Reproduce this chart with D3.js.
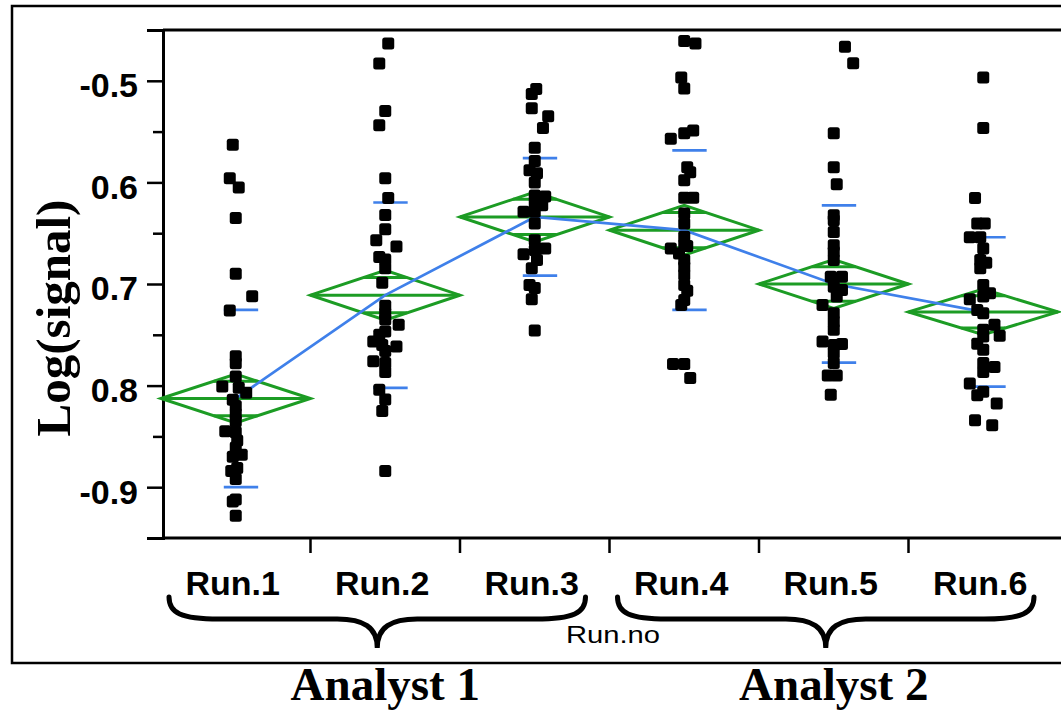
<!doctype html>
<html lang="en">
<head>
  <meta charset="utf-8">
  <title>Log(signal) by Run.no</title>
  <script src="https://cdnjs.cloudflare.com/ajax/libs/d3/7.8.5/d3.min.js"></script>
  <style>
    body { margin: 0; background: #fff; overflow: hidden; }
    svg { display: block; }
  </style>
</head>
<body>
<script>
// categories and groups
const runs = ["Run.1", "Run.2", "Run.3", "Run.4", "Run.5", "Run.6"];
const analysts = ["Analyst 1", "Analyst 2"];
const analystRuns = [["Run.1", "Run.2", "Run.3"], ["Run.4", "Run.5", "Run.6"]];

// group summaries (means, 95% CI half width, std dev)
const meanVals = [-0.8127, -0.711, -0.634, -0.647, -0.700, -0.7275];
const ciHalf = [0.024, 0.0245, 0.0245, 0.0245, 0.024, 0.0225];
const stdDevs = [0.0873, 0.0912, 0.0578, 0.0785, 0.0773, 0.0735];

// y axis
const yTickValues = [-0.5, -0.6, -0.7, -0.8, -0.9];
const yTickLabels = ["-0.5", "0.6", "0.7", "0.8", "-0.9"];
const yMinorValues = [-0.45, -0.55, -0.65, -0.75, -0.85, -0.95];

// observations: [value, jitter as fraction of band]
const run1 = [[-0.563,-0.02],[-0.596,-0.04],[-0.605,0.02],[-0.635,0],[-0.690,0],[-0.712,0.11],
  [-0.726,-0.04],[-0.771,0],[-0.778,0],[-0.791,0],[-0.801,-0.09],[-0.802,0.02],[-0.807,0.07],
  [-0.814,-0.02],[-0.820,0],[-0.828,0],[-0.835,0],[-0.845,-0.07],[-0.846,0],[-0.854,0.01],
  [-0.861,0],[-0.868,0.04],[-0.870,-0.02],[-0.881,0.01],[-0.884,-0.03],[-0.892,0],
  [-0.912,0],[-0.914,-0.02],[-0.928,0]];
const run2 = [[-0.4634,0.02],[-0.483,-0.04],[-0.5297,0],[-0.5438,-0.04],[-0.596,0],[-0.6154,0.02],
  [-0.632,0],[-0.646,0],[-0.657,-0.06],[-0.663,0.075],[-0.6735,-0.04],[-0.676,0],[-0.6846,0],
  [-0.6987,-0.02],[-0.7213,0],[-0.7287,0],[-0.735,0],[-0.740,0.09],[-0.7468,0],[-0.750,-0.04],
  [-0.7566,-0.08],[-0.760,-0.02],[-0.7615,0.075],[-0.766,0],[-0.776,-0.08],[-0.7778,0],
  [-0.7866,0],[-0.804,-0.04],[-0.8137,0],[-0.825,-0.02],[-0.884,0]];
const run3 = [[-0.508,0.01],[-0.513,-0.02],[-0.527,-0.02],[-0.535,0.09],[-0.5464,0.055],[-0.566,0],
  [-0.579,0],[-0.588,-0.035],[-0.591,0.015],[-0.600,0],[-0.613,0],[-0.614,0.07],[-0.621,0],
  [-0.6225,0.05],[-0.629,-0.075],[-0.629,0],[-0.6405,0],[-0.657,0],[-0.665,0.07],[-0.6667,0],
  [-0.6706,-0.075],[-0.6765,0.015],[-0.6846,-0.02],[-0.701,-0.035],[-0.704,0],[-0.715,-0.02],
  [-0.7458,0]];
const run4 = [[-0.4608,0],[-0.4634,0.075],[-0.4968,-0.02],[-0.5075,0],[-0.549,0.06],[-0.5516,0],
  [-0.557,-0.09],[-0.585,0.02],[-0.590,0.04],[-0.598,0],[-0.615,0],[-0.615,0.06],[-0.6307,0],
  [-0.6405,0],[-0.6536,0],[-0.6618,0],[-0.6627,0.02],[-0.665,-0.09],[-0.670,-0.035],[-0.6765,0],
  [-0.683,0],[-0.691,0],[-0.701,0],[-0.7066,0.02],[-0.7157,0],[-0.7206,-0.02],[-0.7787,-0.075],
  [-0.7787,0],[-0.7925,0.04]];
const run5 = [[-0.4664,0.075],[-0.4827,0.13],[-0.5517,0],[-0.585,0],[-0.6017,0.02],[-0.6324,0],
  [-0.6373,0],[-0.6487,0],[-0.6618,0],[-0.6683,0],[-0.6765,0],[-0.6928,-0.02],[-0.6928,0.055],
  [-0.7026,0],[-0.7059,0.055],[-0.7124,0.02],[-0.7206,-0.075],[-0.7287,0],[-0.7369,0],[-0.745,0],
  [-0.7566,-0.075],[-0.759,0.055],[-0.760,0],[-0.768,0],[-0.7778,0],[-0.79,-0.04],[-0.79,0.02],
  [-0.809,-0.02]];
const run6 = [[-0.4968,0],[-0.5464,0],[-0.6154,-0.055],[-0.6405,-0.04],[-0.6405,0.01],[-0.654,-0.09],
  [-0.654,-0.02],[-0.665,0],[-0.6765,-0.02],[-0.679,0.02],[-0.6846,-0.02],[-0.701,0],[-0.709,0.045],
  [-0.7124,0],[-0.715,-0.09],[-0.7255,-0.04],[-0.7287,0],[-0.740,0.075],[-0.745,0],[-0.751,0.11],
  [-0.7517,0],[-0.7588,-0.04],[-0.7647,0],[-0.7778,0],[-0.7817,0.075],[-0.7866,0],[-0.798,-0.09],
  [-0.806,0],[-0.8095,-0.04],[-0.8176,0.09],[-0.834,-0.055],[-0.839,0.06]];
const runPoints = [run1, run2, run3, run4, run5, run6];

const W = 1061, H = 710;
const plot = { left: 163, top: 30, bottom: 538, right: 1061 };
const green = "#1c9c24", blue = "#3f80ea";

const svg = d3.select("body").append("svg")
  .attr("width", W).attr("height", H)
  .attr("xmlns", "http://www.w3.org/2000/svg");

const x = d3.scaleBand().domain(runs).range([161, 1058]).paddingInner(0).paddingOuter(0);
const bw = x.bandwidth();
const cx = r => x(r) + bw / 2;
const y = d3.scaleLinear().domain([-0.95, -0.45]).range([plot.bottom, plot.top]);

// outer frame
svg.append("rect")
  .attr("x", 12).attr("y", 6).attr("width", 1100).attr("height", 657)
  .attr("fill", "none").attr("stroke", "#000").attr("stroke-width", 2.5);

// plot frame lines (top and bottom)
svg.append("line").attr("x1", plot.left).attr("x2", plot.right + 5)
  .attr("y1", plot.top).attr("y2", plot.top).attr("stroke", "#000").attr("stroke-width", 3);
svg.append("line").attr("x1", plot.left).attr("x2", plot.right + 5)
  .attr("y1", plot.bottom).attr("y2", plot.bottom).attr("stroke", "#000").attr("stroke-width", 3);

// y axis
const yAxis = d3.axisLeft(y).tickValues(yTickValues)
  .tickFormat((d, i) => yTickLabels[i]).tickSize(16).tickPadding(9);
const gy = svg.append("g").attr("transform", `translate(${plot.left},0)`).call(yAxis);
gy.select(".domain").attr("stroke-width", 3);
gy.selectAll(".tick line").attr("stroke-width", 2.5);
gy.selectAll(".tick text")
  .attr("dy", "0.47em")
  .style("font-family", "'Liberation Sans', Arial, sans-serif")
  .style("font-weight", "bold").style("font-size", "34px").attr("fill", "#000");

const gyMinor = svg.append("g").attr("transform", `translate(${plot.left},0)`)
  .call(d3.axisLeft(y).tickValues(yMinorValues).tickFormat("").tickSize(10));
gyMinor.select(".domain").remove();
gyMinor.selectAll(".tick line").attr("stroke-width", 2.5);

// x axis ticks between runs
svg.append("g").selectAll("line").data(runs.slice(1)).join("line")
  .attr("x1", d => x(d)).attr("x2", d => x(d))
  .attr("y1", plot.bottom).attr("y2", plot.bottom + 15)
  .attr("stroke", "#000").attr("stroke-width", 2.5);

svg.append("g").selectAll("text").data(runs).join("text")
  .attr("x", d => cx(d) - 3).attr("y", 595)
  .attr("text-anchor", "middle")
  .style("font-family", "'Liberation Sans', Arial, sans-serif")
  .style("font-weight", "bold").style("font-size", "34px")
  .text(d => d);

// y title
svg.append("text")
  .attr("transform", "translate(70,318) rotate(-90)")
  .attr("text-anchor", "middle")
  .style("font-family", "'Liberation Serif', 'Times New Roman', serif")
  .style("font-weight", "bold").style("font-size", "49px")
  .text("Log(signal)");

// means diamonds
const summary = runs.map((r, i) => ({ run: r, mean: meanVals[i], ci: ciHalf[i], sd: stdDevs[i] }));
const gd = svg.append("g").attr("fill", "none").attr("stroke", green).attr("stroke-width", 3);
summary.forEach(s => {
  const l = x(s.run), r = x(s.run) + bw, c = cx(s.run);
  gd.append("polygon").attr("points", [
    [l, y(s.mean)], [c, y(s.mean + s.ci)], [r, y(s.mean)], [c, y(s.mean - s.ci)]
  ].map(p => p.join(",")).join(" "));
  gd.append("line").attr("x1", l).attr("x2", r).attr("y1", y(s.mean)).attr("y2", y(s.mean));
  const k = Math.SQRT1_2, hw = (bw / 2) * (1 - k);
  [1, -1].forEach(sg => {
    gd.append("line").attr("x1", c - hw).attr("x2", c + hw)
      .attr("y1", y(s.mean + sg * s.ci * k)).attr("y2", y(s.mean + sg * s.ci * k));
  });
});

// connecting line of means
svg.append("path").datum(summary)
  .attr("fill", "none").attr("stroke", blue).attr("stroke-width", 2.7)
  .attr("d", d3.line().x(d => cx(d.run)).y(d => y(d.mean)));

// std dev lines
const gs = svg.append("g").attr("stroke", blue).attr("stroke-width", 2.7);
summary.forEach(s => {
  [1, -1].forEach(sg => {
    gs.append("line")
      .attr("x1", x(s.run) + bw * 0.42).attr("x2", x(s.run) + bw * 0.65)
      .attr("y1", y(s.mean + sg * s.sd)).attr("y2", y(s.mean + sg * s.sd));
  });
});

// points
const ms = 12;
const pts = runs.flatMap((r, i) => runPoints[i].map(p => ({ run: r, v: p[0], dx: p[1] })));
svg.append("g").selectAll("rect").data(pts).join("rect")
  .attr("x", d => cx(d.run) + d.dx * bw - ms / 2)
  .attr("y", d => y(d.v) - ms / 2)
  .attr("width", ms).attr("height", ms).attr("rx", 2.5)
  .attr("fill", "#000");

// x title
svg.append("text")
  .attr("x", 613).attr("y", 643).attr("text-anchor", "middle")
  .attr("textLength", 94).attr("lengthAdjust", "spacingAndGlyphs")
  .style("font-family", "'Liberation Sans', Arial, sans-serif")
  .style("font-size", "23px")
  .text("Run.no");

// braces and analyst labels
function brace(x0, x1, yTop, yMid, yTip) {
  const m = (x0 + x1) / 2;
  return `M${x0},${yTop} C${x0},${yMid - 6} ${x0 + 12},${yMid} ${x0 + 50},${yMid}` +
    ` L${m - 40},${yMid} C${m - 14},${yMid} ${m},${yMid + 8} ${m},${yTip}` +
    ` C${m},${yMid + 8} ${m + 14},${yMid} ${m + 40},${yMid}` +
    ` L${x1 - 50},${yMid} C${x1 - 12},${yMid} ${x1},${yMid - 6} ${x1},${yTop}`;
}
analystRuns.forEach((grp, i) => {
  const x0 = x(grp[0]) + 8, x1 = x(grp[grp.length - 1]) + bw - 24;
  svg.append("path").attr("d", brace(x0, x1, 597, 619, 648))
    .attr("fill", "none").attr("stroke", "#000").attr("stroke-width", 5)
    .attr("stroke-linecap", "round");
  svg.append("text")
    .attr("x", d3.mean(grp, cx)).attr("y", 700).attr("text-anchor", "middle")
    .style("font-family", "'Liberation Serif', 'Times New Roman', serif")
    .style("font-weight", "bold").style("font-size", "47px")
    .text(analysts[i]);
});
</script>
</body>
</html>
